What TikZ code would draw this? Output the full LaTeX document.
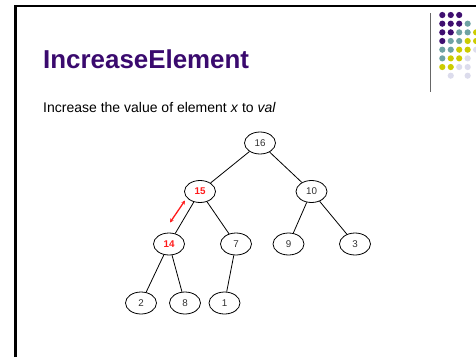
\documentclass[tikz,border=0pt]{standalone}
\usepackage{fontspec}
\setmainfont{Liberation Sans}
\usetikzlibrary{shapes.geometric,arrows.meta}
\definecolor{titlepurple}{HTML}{3A0A6E}
\definecolor{dotP}{HTML}{3F0F70}
\definecolor{dotT}{HTML}{6FA3A3}
\definecolor{dotY}{HTML}{CCCC00}
\definecolor{dotL}{HTML}{DCDCEC}
\definecolor{nodetext}{HTML}{303030}
\definecolor{hot}{HTML}{FF1A1A}
\tikzset{
  heapnode/.style={ellipse, draw=black, line width=0.8pt, minimum width=31pt, minimum height=22pt, inner sep=0pt, text=nodetext, font=\fontsize{9.8}{11}\selectfont},
  hotnode/.style={heapnode, text=hot, font=\fontsize{9.8}{11}\selectfont\bfseries},
  treeedge/.style={line width=0.8pt, draw=black},
  slideframe/.style={line width=2.6pt, draw=black},
  titletext/.style={anchor=base west, inner sep=0pt, text=titlepurple, font=\fontsize{25.9}{30}\selectfont\bfseries},
  bodytext/.style={anchor=base west, inner sep=0pt, text=black, font=\fontsize{14}{17}\selectfont},
}
\begin{document}
\begin{tikzpicture}[x=1pt,y=-1pt]
\useasboundingbox (0,0) rectangle (476,357);
% slide frame
\draw[slideframe] (15.3,357) -- (15.3,5.8) -- (476,5.8);
% decoration line
\draw[line width=1pt, draw=gray!80!black] (430,13) -- (430,92);
% dots
\foreach \r/\cols in {1/{1/dotP,2/dotP,3/dotP},
                      2/{1/dotP,2/dotP,3/dotP,4/dotT},
                      3/{1/dotP,2/dotP,3/dotT,4/dotT,5/dotY},
                      4/{1/dotP,2/dotT,3/dotT,4/dotY,5/dotY},
                      5/{1/dotT,2/dotT,3/dotY,4/dotY,5/dotL},
                      6/{1/dotT,2/dotY,3/dotY,4/dotL},
                      7/{1/dotY,2/dotY,3/dotL,4/dotL},
                      8/{2/dotL,4/dotL}}{
  \foreach \c/\col in \cols {
    \fill[\col] ({442.3+(\c-1)*8.45},{15+(\r-1)*8.67}) circle[radius=3.1pt];
  }
}
% title and text
\coordinate (titlepos) at (43,68.3);
\coordinate (bodypos) at (43,112);
\node[titletext] (title) at (titlepos) {IncreaseElement};
\node[bodytext] (body) at (bodypos) {Increase the value of element \textit{x} to \textit{val}};
% tree
\node[heapnode] (n16) at (260,143) {16};
\node[hotnode]  (n15) at (200,191.5) {15};
\node[heapnode] (n10) at (311.5,191.5) {10};
\node[hotnode]  (n14) at (169,244) {14};
\node[heapnode] (n7)  at (236,244) {7};
\node[heapnode] (n9)  at (288.5,244) {9};
\node[heapnode] (n3)  at (355,244) {3};
\node[heapnode] (n2)  at (141,303) {2};
\node[heapnode] (n8)  at (185,303) {8};
\node[heapnode] (n1)  at (224.5,303) {1};
\draw[treeedge] (n16) -- (n15);
\draw[treeedge] (n16) -- (n10);
\draw[treeedge] (n15) -- (n14);
\draw[treeedge] (n15) -- (n7);
\draw[treeedge] (n10) -- (n9);
\draw[treeedge] (n10) -- (n3);
\draw[treeedge] (n14) -- (n2);
\draw[treeedge] (n14) -- (n8);
\draw[treeedge] (n7) -- (n1);
% swap arrow
\coordinate (a1) at (170,222.5);
\coordinate (a2) at (185,200.5);
\draw[hot, line width=1.3pt, {Stealth[length=4pt,width=4pt]}-{Stealth[length=4pt,width=4pt]}] (a1) -- (a2);
\end{tikzpicture}
\end{document}
